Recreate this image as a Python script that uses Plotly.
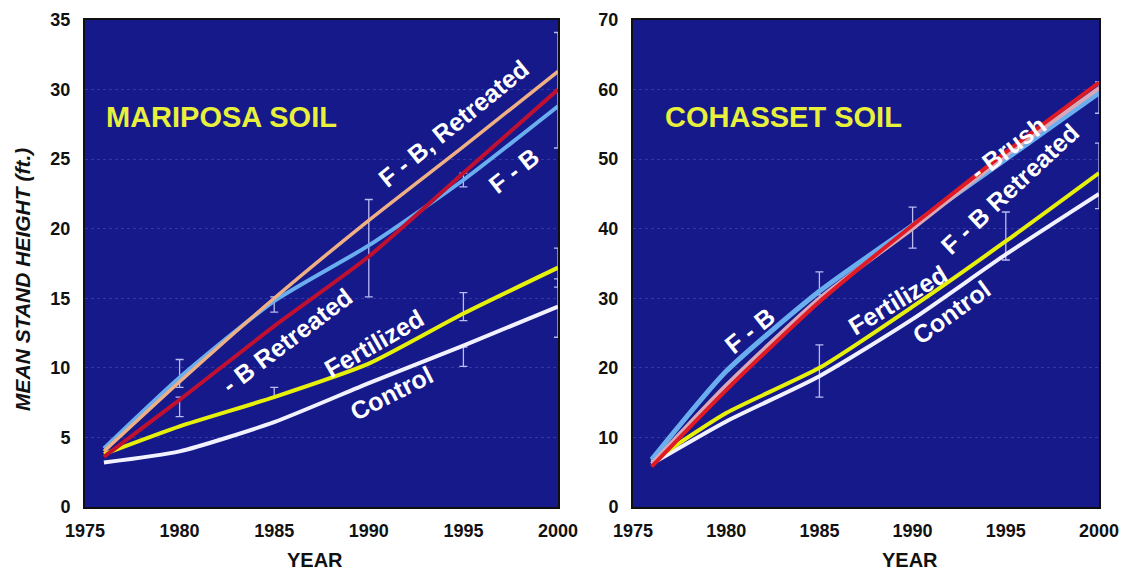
import plotly.graph_objects as go

# ---------------- data ----------------
years = [1976, 1980, 1985, 1990, 1995, 2000]

# Mariposa soil (left)
m_control = [3.2, 4.0, 6.1, 8.9, 11.6, 14.4]
m_fertilized = [3.8, 5.8, 7.9, 10.3, 13.9, 17.2]
m_fb = [4.2, 9.3, 14.8, 18.8, 23.5, 28.8]
m_fb_retreated = [4.0, 9.0, 15.0, 20.6, 25.9, 31.3]
m_b_retreated = [3.6, 7.7, 13.0, 18.0, 24.0, 30.0]

m_bar_x = [1980, 1980, 1985, 1985, 1990, 1995, 1995, 1995, 2000, 2000, 2000]
m_bar_lo = [8.6, 6.5, 14.0, 7.9, 15.1, 23.0, 13.4, 10.1, 25.8, 15.8, 12.2]
m_bar_hi = [10.6, 7.9, 15.1, 8.6, 22.1, 24.0, 15.4, 11.5, 34.1, 18.6, 16.4]

# Cohasset soil (right)
c_control = [6.2, 12.3, 18.8, 27.0, 36.3, 45.0]
c_fertilized = [6.5, 13.5, 20.0, 28.8, 38.2, 48.0]
c_fb = [6.8, 19.5, 31.0, 40.5, 50.0, 59.5]
c_fb_retreated = [6.2, 17.5, 30.0, 40.0, 50.5, 60.2]
c_brush = [5.8, 16.8, 29.5, 40.5, 51.0, 61.0]

c_bar_x = [1985, 1985, 1990, 1995, 2000, 2000]
c_bar_lo = [30.5, 15.8, 37.2, 35.5, 56.6, 42.9]
c_bar_hi = [33.8, 23.3, 43.1, 42.4, 61.1, 52.3]

x_ticks = [1975, 1980, 1985, 1990, 1995, 2000]

# ---------------- style ----------------
BG = "#15198a"
FONT = "Liberation Sans, Arial, Helvetica, sans-serif"
C_CONTROL = "#f2f2ff"
C_FERT = "#e6f00a"
C_FB = "#6aaef0"
C_FBRE = "#f0b084"
C_RED = "#c01030"
C_BRUSH = "#e01a24"
C_FBRE_R = "#d8a8b8"
C_BAR = "rgba(205,205,255,0.9)"

fig = go.Figure()


def add_line(x, y, color, xa, ya, width=4):
    fig.add_trace(go.Scatter(x=x, y=y, mode="lines", xaxis=xa, yaxis=ya,
                             line=dict(color=color, width=width, shape="spline", smoothing=0.6),
                             hoverinfo="skip", showlegend=False))


def add_bars(bx, lo, hi, xa, ya):
    mid = [(a + b) / 2 for a, b in zip(lo, hi)]
    err = [(b - a) / 2 for a, b in zip(lo, hi)]
    fig.add_trace(go.Scatter(x=bx, y=mid, mode="markers", xaxis=xa, yaxis=ya,
                             marker=dict(size=1, color="rgba(0,0,0,0)"),
                             error_y=dict(type="data", array=err, visible=True,
                                          color=C_BAR, thickness=1.3, width=4),
                             hoverinfo="skip", showlegend=False))


# left panel
add_bars(m_bar_x, m_bar_lo, m_bar_hi, "x", "y")
add_line(years, m_control, C_CONTROL, "x", "y")
add_line(years, m_fertilized, C_FERT, "x", "y")
add_line(years, m_fb, C_FB, "x", "y")
add_line(years, m_b_retreated, C_RED, "x", "y")
add_line(years, m_fb_retreated, C_FBRE, "x", "y", width=3.5)

# right panel
add_bars(c_bar_x, c_bar_lo, c_bar_hi, "x2", "y2")
add_line(years, c_control, C_CONTROL, "x2", "y2")
add_line(years, c_fertilized, C_FERT, "x2", "y2")
add_line(years, c_fb, C_FB, "x2", "y2", width=5)
add_line(years, c_fb_retreated, C_FBRE_R, "x2", "y2")
add_line(years, c_brush, C_BRUSH, "x2", "y2")

W, H = 1144, 573
TOP, BOT = 20, 66
PH = H - TOP - BOT
tickfont = dict(family=FONT, size=18, color="#111", weight="bold")
axis_common = dict(showline=True, linecolor="#101010", linewidth=2, mirror=True,
                   zeroline=False, automargin=False, tickfont=tickfont,
                   ticks="outside", tickcolor="rgba(0,0,0,0)")
grid = dict(showgrid=True, gridcolor="rgba(120,130,210,0.3)", griddash="dot", gridwidth=1)

fig.update_layout(
    width=W, height=H,
    margin=dict(l=0, r=0, t=TOP, b=BOT, autoexpand=False),
    paper_bgcolor="white", plot_bgcolor=BG,
    showlegend=False,
    xaxis=dict(domain=[85 / W, 558 / W], range=[1975, 2000], tickvals=x_ticks,
               showgrid=False, ticklen=6, **axis_common),
    yaxis=dict(domain=[0, 1], range=[0, 35], dtick=5, ticklen=9, **grid, **axis_common),
    xaxis2=dict(domain=[633 / W, 1099 / W], range=[1975, 2000], tickvals=x_ticks,
                showgrid=False, anchor="y2", ticklen=6, **axis_common),
    yaxis2=dict(domain=[0, 1], range=[0, 70], dtick=10, anchor="x2", ticklen=9,
                **grid, **axis_common),
)


def lab(text, x, y, ang, xref, yref, size=25, color="white"):
    fig.add_annotation(text=text, x=x, y=y, xref=xref, yref=yref, textangle=ang,
                       showarrow=False, xanchor="center", yanchor="middle",
                       font=dict(family=FONT, size=size, color=color, weight="bold"))


# titles in panels
lab("MARIPOSA SOIL", 1982.2, 28.0, 0, "x", "y", size=29, color="#e8f03c")
lab("COHASSET SOIL", 1983.05, 56.0, 0, "x2", "y2", size=29, color="#e8f03c")

# curve labels left
lab("F - B, Retreated", 1994.5, 27.6, -39, "x", "y")
lab("F - B", 1997.7, 24.2, -38, "x", "y")
lab("- B Retreated", 1985.7, 12.0, -37, "x", "y")
lab("Fertilized", 1990.3, 11.8, -30, "x", "y")
lab("Control", 1991.2, 8.2, -27, "x", "y")

# curve labels right
lab("F - B", 1981.3, 25.4, -39, "x2", "y2")
lab("Fertilized", 1989.2, 29.7, -31, "x2", "y2")
lab("Control", 1992.1, 28.0, -36, "x2", "y2")
lab("- Brush", 1995.1, 51.6, -37, "x2", "y2")
lab("F - B Retreated", 1995.2, 45.7, -43, "x2", "y2")


def py(pix):
    return (H - BOT - pix) / PH


# axis titles
fig.add_annotation(text="<i>MEAN STAND HEIGHT (ft.)</i>", x=23 / W, y=py(280),
                   xref="paper", yref="paper", textangle=-90, showarrow=False,
                   xanchor="center", yanchor="middle",
                   font=dict(family=FONT, size=21, color="#111", weight="bold"))
fig.add_annotation(text="YEAR", x=315 / W, y=py(560), xref="paper", yref="paper",
                   showarrow=False, xanchor="center", yanchor="middle",
                   font=dict(family=FONT, size=20, color="#111", weight="bold"))
fig.add_annotation(text="YEAR", x=910 / W, y=py(560), xref="paper", yref="paper",
                   showarrow=False, xanchor="center", yanchor="middle",
                   font=dict(family=FONT, size=20, color="#111", weight="bold"))

fig.write_html("out.html", config={"displayModeBar": False},
               post_script="document.body.style.margin='0';")
